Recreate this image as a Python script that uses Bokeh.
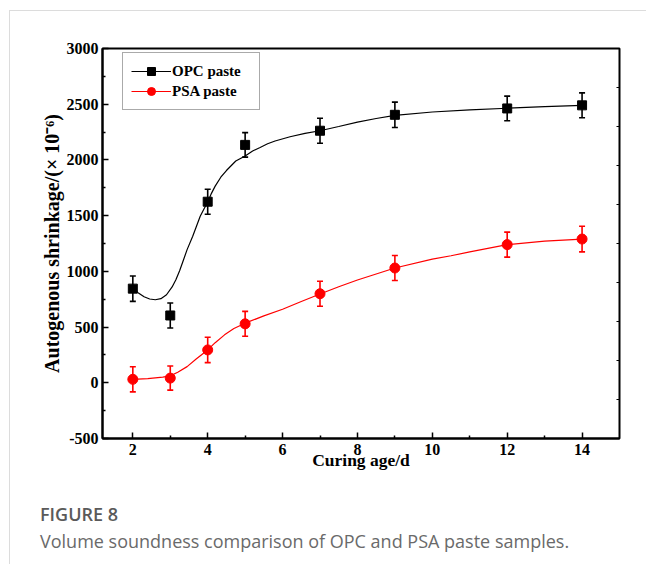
from bokeh.plotting import figure
from bokeh.layouts import column
from bokeh.models import (Range1d, FixedTicker, Whisker, ColumnDataSource,
                          Legend, LegendItem, TeeHead, Div)
from bokeh.embed import file_html
from bokeh.resources import INLINE

# ---- data ----
age = [2, 3, 4, 5, 7, 9, 12, 14]
opc = [845, 604, 1625, 2135, 2262, 2405, 2462, 2490]
opc_err = [114, 112, 112, 110, 112, 114, 111, 112]
psa = [31, 42, 295, 529, 799, 1030, 1240, 1290]
psa_err = [113, 108, 114, 112, 112, 112, 112, 115]

# fitted curves
opc_fit_x = [2.0, 2.15, 2.3, 2.45, 2.6, 2.75, 2.9, 3.05, 3.15, 3.25, 3.35, 3.45, 3.6, 3.7,
             3.8, 3.9, 4.0, 4.1, 4.2, 4.35, 4.5, 4.75, 5.0, 5.2, 5.4, 5.6, 5.8, 6.2,
             6.6, 7.0, 7.5, 8.0, 8.5, 9.0, 10.0, 11.0, 12.0, 13.0, 14.0]
opc_fit_y = [848, 805, 772, 752, 745, 755, 790, 860, 925, 1005, 1100, 1195, 1315, 1405,
             1495, 1560, 1620, 1700, 1765, 1845, 1905, 1990, 2035, 2080, 2112, 2145, 2170, 2208,
             2238, 2262, 2300, 2340, 2372, 2400, 2430, 2450, 2464, 2478, 2490]
psa_fit_x = [2.0, 2.4, 2.8, 3.0, 3.2, 3.45, 3.7, 4.0, 4.2, 4.45, 4.7, 5.0, 5.5, 6.0,
             6.5, 7.0, 7.5, 8.0, 9.0, 10.0, 10.5, 11.0, 12.0, 13.0, 14.0]
psa_fit_y = [31, 38, 50, 62, 95, 145, 215, 295, 360, 430, 487, 535, 600, 660,
             730, 797, 862, 922, 1030, 1110, 1140, 1175, 1240, 1272, 1290]

x_ticks = [2, 4, 6, 8, 10, 12, 14]
x_minor = [3, 5, 7, 9, 11, 13]
y_ticks = [-500, 0, 500, 1000, 1500, 2000, 2500, 3000]
y_tick_labels = ["-500", "0", "500", "1000", "1500", "2000", "2500", "3000"]
y_minor = [-250, 250, 750, 1250, 1750, 2250, 2750]
right_ticks = [-150, 200, 550, 900, 1250, 1600, 1950, 2300, 2650]
X_MAX = 15.0

fig_label = "FIGURE 8"
caption = "Volume soundness comparison of OPC and PSA paste samples."

FONT = "Liberation Serif"

p = figure(width=636, height=477, x_range=Range1d(1.19, X_MAX), y_range=Range1d(-500, 3000),
           output_backend="svg", toolbar_location=None,
           min_border_left=92, min_border_right=27, min_border_top=37, min_border_bottom=50)
p.margin = 0
p.background_fill_color = "white"
p.border_fill_color = "white"
p.outline_line_color = "black"
p.outline_line_width = 2
p.xgrid.visible = False
p.ygrid.visible = False

xa = p.xaxis[0]
ya = p.yaxis[0]
xa.ticker = FixedTicker(ticks=x_ticks, minor_ticks=x_minor)
ya.ticker = FixedTicker(ticks=y_ticks, minor_ticks=y_minor)
ya.major_label_overrides = dict(zip(y_ticks, y_tick_labels))
for ax in (xa, ya):
    ax.axis_line_width = 2
    ax.major_tick_in = 6
    ax.major_tick_out = 0
    ax.minor_tick_in = 3
    ax.minor_tick_out = 0
    ax.major_tick_line_width = 1.5
    ax.minor_tick_line_width = 1.5
    ax.major_label_text_font = FONT
    ax.major_label_text_font_style = "bold"
    ax.major_label_text_font_size = "16px"
    ax.major_label_text_color = "black"
    ax.axis_label_text_font = FONT
    ax.axis_label_text_font_style = "bold"
    ax.axis_label_text_color = "black"
xa.major_label_standoff = 5
ya.major_label_standoff = 4
xa.axis_label = "Curing age/d"
xa.axis_label_text_font_size = "17.5px"
xa.axis_label_standoff = -8
ya.axis_label = "Autogenous shrinkage/(× 10⁻⁶)"
ya.axis_label_text_font_size = "20px"
ya.axis_label_standoff = 1

# inward ticks on the right frame edge
p.ray(x=[X_MAX] * len(right_ticks), y=right_ticks, length=3, length_units="screen",
      angle=180, angle_units="deg", line_color="black", line_width=1.2)

# fitted curves
l_opc = p.line(opc_fit_x, opc_fit_y, line_color="black", line_width=1.2)
l_psa = p.line(psa_fit_x, psa_fit_y, line_color="red", line_width=1.2)

# error bars
for vals, errs, col in ((opc, opc_err, "black"), (psa, psa_err, "red")):
    src = ColumnDataSource(dict(x=age,
                                upper=[v + e for v, e in zip(vals, errs)],
                                lower=[v - e for v, e in zip(vals, errs)]))
    w = Whisker(source=src, base="x", upper="upper", lower="lower", dimension="height",
                line_color=col, line_width=1.6,
                upper_head=TeeHead(size=6, line_color=col, line_width=1.6),
                lower_head=TeeHead(size=6, line_color=col, line_width=1.6))
    p.add_layout(w)

s_opc = p.scatter(age, opc, marker="square", size=9, fill_color="black", line_color="black")
s_psa = p.scatter(age, psa, marker="circle", size=10, fill_color="red", line_color="red")

legend = Legend(items=[LegendItem(label="OPC paste", renderers=[l_opc, s_opc]),
                       LegendItem(label="PSA paste", renderers=[l_psa, s_psa])],
                location=(20, 328), margin=0, padding=8, spacing=0,
                glyph_width=40, glyph_height=20, label_height=20, label_width=79,
                label_standoff=1, border_line_color="#555555", border_line_width=1,
                background_fill_color="white", background_fill_alpha=1,
                label_text_font=FONT, label_text_font_style="bold",
                label_text_font_size="15px", label_text_color="black")
p.add_layout(legend)

cap_html = (
    '<div style="padding:13px 0 0 30px;font-family:\'Open Sans\',sans-serif;">'
    '<div style="font-size:18px;line-height:27px;font-weight:600;color:#5a5a5a;'
    'white-space:nowrap;">' + fig_label + '</div>'
    '<div style="font-size:18px;line-height:27px;font-weight:400;color:#6a6a6a;'
    'white-space:nowrap;">' + caption + '</div></div>'
)
cap = Div(text=cap_html, width=636, height=76, margin=0)

layout = column(p, cap, spacing=0)
layout.margin = (10, 0, 0, 9)
layout.styles = {"border-top": "1px solid #dcdcdc", "border-left": "1px solid #dcdcdc"}

open("out.html", "w").write(file_html(layout, INLINE))
